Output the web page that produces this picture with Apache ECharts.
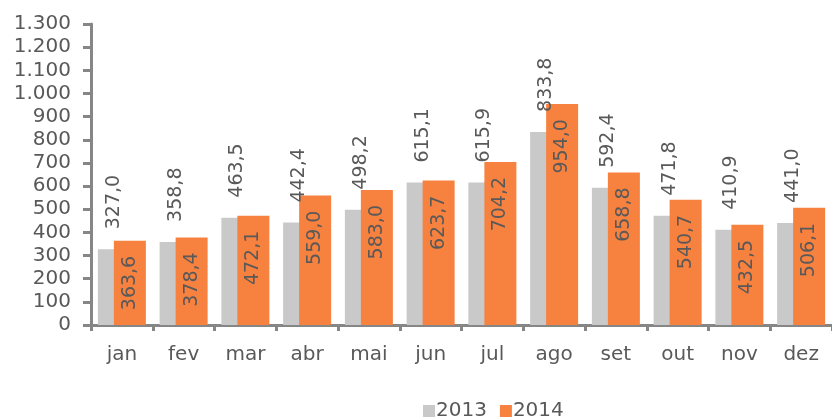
<!DOCTYPE html>
<html>
<head>
<meta charset="utf-8">
<script src="https://cdn.jsdelivr.net/npm/echarts@6/dist/echarts.min.js"></script>
<style>
  html, body { margin: 0; padding: 0; background: #fff; }
  #main { width: 832px; height: 418px; }
</style>
</head>
<body>
<div id="main"></div>
<script>
const months = ['jan', 'fev', 'mar', 'abr', 'mai', 'jun', 'jul', 'ago', 'set', 'out', 'nov', 'dez']
const v2013 = [327.0, 358.8, 463.5, 442.4, 498.2, 615.1, 615.9, 833.8, 592.4, 471.8, 410.9, 441.0]
const v2014 = [363.6, 378.4, 472.1, 559.0, 583.0, 623.7, 704.2, 954.0, 658.8, 540.7, 432.5, 506.1]

const font = 'DejaVu Sans'
const textColor = '#595959'
const axisColor = '#868686'

// 1.300 style thousands, 327,0 style decimals
const fmtInt = v => String(v).replace(/\B(?=(\d{3})+(?!\d))/g, '.')
const fmtDec = v => v.toFixed(1).replace('.', ',')

const option = {
  animation: false,
  textStyle: { fontFamily: font },
  grid: { left: 91, top: 24, width: 742, bottom: 93, containLabel: false },
  legend: {
    bottom: -3,
    left: 423,
    itemWidth: 12,
    itemHeight: 12,
    itemGap: 13,
    padding: 0,
    icon: 'rect',
    textStyle: { fontFamily: font, fontSize: 20, color: textColor, padding: [0, 0, 0, -4] },
    data: ['2013', '2014']
  },
  xAxis: {
    type: 'category',
    data: months,
    axisLine: { lineStyle: { color: axisColor, width: 3 } },
    axisTick: { show: true, length: 6, lineStyle: { color: axisColor, width: 3 } },
    axisLabel: { color: textColor, fontSize: 20, fontFamily: font, margin: 20 }
  },
  yAxis: {
    type: 'value',
    min: 0,
    max: 1300,
    interval: 100,
    axisLine: { show: true, lineStyle: { color: axisColor, width: 3 } },
    axisTick: { show: true, length: 8, lineStyle: { color: axisColor, width: 3 } },
    splitLine: { show: false },
    axisLabel: { color: textColor, fontSize: 20, fontFamily: font, margin: 20, formatter: fmtInt }
  },
  series: [{
    name: '2013',
    type: 'bar',
    data: v2013,
    barWidth: 32,
    barGap: '-50%',
    itemStyle: { color: '#C9C9C9' },
    label: {
      show: true,
      position: 'top',
      distance: 20,
      rotate: 90,
      align: 'left',
      verticalAlign: 'middle',
      color: textColor,
      fontSize: 19,
      fontFamily: font,
      formatter: p => fmtDec(p.value)
    }
  }, {
    name: '2014',
    type: 'bar',
    data: v2014,
    barWidth: 32,
    itemStyle: { color: '#F7813F' },
    label: {
      show: true,
      position: 'insideTop',
      distance: 15,
      rotate: 90,
      align: 'right',
      verticalAlign: 'middle',
      color: textColor,
      fontSize: 19,
      fontFamily: font,
      formatter: p => fmtDec(p.value)
    }
  }]
}

echarts.init(document.getElementById('main')).setOption(option)
</script>
</body>
</html>
